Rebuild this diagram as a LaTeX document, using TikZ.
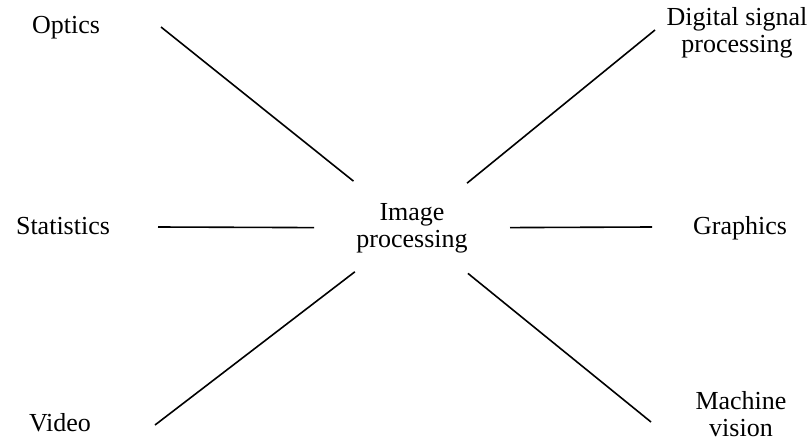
\documentclass[tikz,border=0pt]{standalone}
\usepackage{fontspec}
\setmainfont{Liberation Serif}
\tikzset{lbl/.style={align=center,inner sep=0,font=\fontsize{26}{27}\selectfont},link/.style={line width=1.6pt}}
\begin{document}
\begin{tikzpicture}[x=1pt,y=-1pt]
\useasboundingbox(0,0)rectangle(811,441);
\begin{scope}[lbl]\node(img)at(412,228){Image\\processing};\node(opt)at(66,28){Optics};\node(stat)at(63,226){Statistics};\node(vid)at(60,423){Video};\node(dsp)at(737,33){Digital signal\\processing};\node(gra)at(740,228){Graphics};\node(mv)at(741,414){Machine\\vision};\end{scope}
\coordinate(optend)at(161,27);\coordinate(dspend)at(655,30);\coordinate(statend)at(158,227);\coordinate(graend)at(652,227);\coordinate(vidend)at(155,425);\coordinate(mvend)at(651,422);
\draw[link,shorten <=75pt](img.center)--(optend);\draw[link,shorten <=71pt](img.center)--(dspend);
\draw[link,shorten <=98pt](img.center)--(statend);\draw[link,shorten <=98pt](img.center)--(graend);
\draw[link,shorten <=72pt](img.center)--(vidend);\draw[link,shorten <=72pt](img.center)--(mvend);
\end{tikzpicture}
\end{document}
